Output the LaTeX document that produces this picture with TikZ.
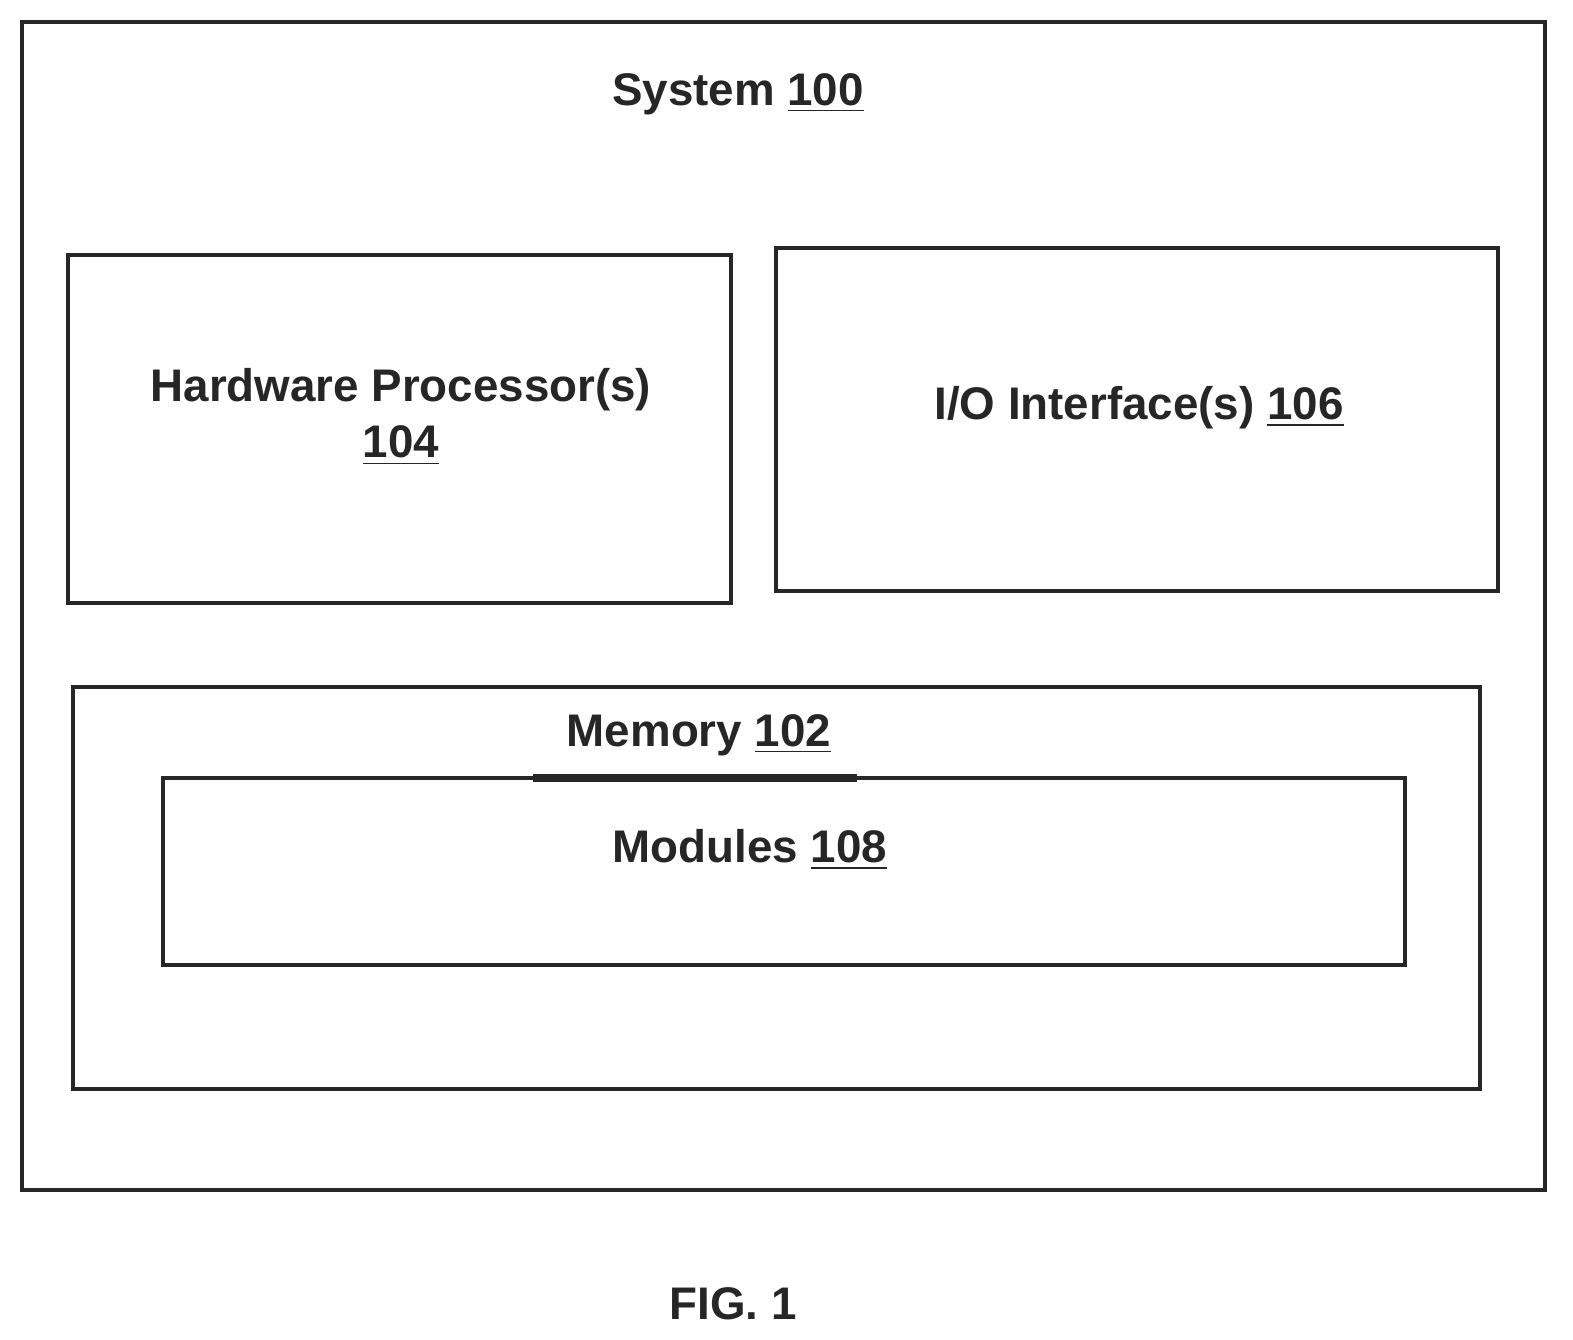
\documentclass[tikz,border=0pt]{standalone}
\usepackage{fontspec}
\setmainfont{Liberation Sans}
\usepackage{tikz}
\tikzset{box/.style={draw, line width=1pt, gray!30!black},
  lbl/.style={font=\bfseries\fontsize{13}{16}\selectfont, align=center, text=black!85}}

\begin{document}
\begin{tikzpicture}[x=0.01cm, y=-0.01cm]
    % Page frame
    \useasboundingbox (0,0) rectangle (1573,1340);

    % Boxes
    \draw[box] (22,22) rectangle (1545,1190);
    \draw[box] (68,255) rectangle (731,603);
    \draw[box] (776,248) rectangle (1498,591);
    \draw[box] (73,687) rectangle (1480,1089);
    \draw[box] (163,778) rectangle (1405,965);
    \draw[line width=2pt, black!85] (533,778) -- (857,778);

    % Labels
    \node[lbl] (system) at (738,94) {System \underline{100}};
    \node[lbl] (proc) at (401,417) {Hardware Processor(s)\\ \underline{104}};
    \node[lbl] (io) at (1139,408) {I/O Interface(s) \underline{106}};
    \node[lbl] (mem) at (699,735) {Memory \underline{102}};
    \node[lbl] (mod) at (750,850) {Modules \underline{108}};
    \node[lbl] (fig) at (733,1304) {FIG. 1};
\end{tikzpicture}
\end{document}
